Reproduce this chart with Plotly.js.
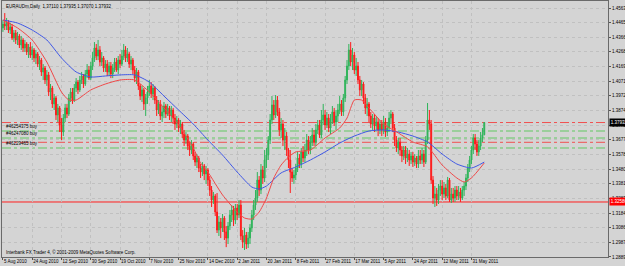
<!DOCTYPE html>
<html><head><meta charset="utf-8">
<script src="https://cdn.plot.ly/plotly-3.0.1.min.js"></script>
<style>html,body{margin:0;padding:0;overflow:hidden;background:#d4d4d4}#c{width:625px;height:266px}</style>
</head><body><div id="c"></div>
<script>
const openP = [
1.4429,1.4455,1.4442,1.4469,1.4415,1.4435,1.4361,1.4395,1.4348,1.4375,
1.4314,1.4348,1.4294,1.4321,1.4267,1.4301,1.4247,1.4281,1.4227,1.4254,
1.4186,1.4213,1.4133,1.4160,1.4079,1.4113,1.3998,1.4025,1.3918,1.3958,
1.3844,1.3891,1.3776,1.3729,1.3823,1.3891,1.3850,1.3958,1.3998,1.3944,
1.4025,1.4065,1.4012,1.4079,1.4106,1.4052,1.4119,1.4146,1.4092,1.4173,
1.4227,1.4294,1.4240,1.4281,1.4200,1.4227,1.4160,1.4186,1.4133,1.4173,
1.4119,1.4160,1.4200,1.4146,1.4213,1.4186,1.4240,1.4281,1.4227,1.4254,
1.4186,1.4213,1.4146,1.4092,1.4133,1.4039,1.3971,1.4012,1.3918,1.3958,
1.3998,1.4039,1.3985,1.4025,1.3944,1.3877,1.3918,1.3837,1.3864,1.3904,
1.3850,1.3891,1.3837,1.3877,1.3823,1.3783,1.3810,1.3756,1.3783,1.3716,
1.3675,1.3702,1.3635,1.3608,1.3649,1.3568,1.3527,1.3554,1.3487,1.3460,
1.3501,1.3447,1.3474,1.3406,1.3339,1.3272,1.3299,1.3191,1.3070,1.3124,
1.3084,1.3151,1.3057,1.3016,1.3097,1.3171,1.3205,1.3137,1.3218,1.3171,
1.3238,1.3030,1.2989,1.3036,1.2976,1.3016,1.3084,1.3171,1.3238,1.3285,
1.3406,1.3339,1.3474,1.3420,1.3541,1.3575,1.3675,1.3810,1.3911,1.3844,
1.3944,1.3864,1.3743,1.3783,1.3675,1.3702,1.3608,1.3541,1.3460,1.3420,
1.3440,1.3487,1.3554,1.3514,1.3595,1.3554,1.3608,1.3675,1.3608,1.3662,
1.3709,1.3662,1.3743,1.3776,1.3709,1.3810,1.3844,1.3776,1.3823,1.3756,
1.3810,1.3864,1.3796,1.3837,1.3877,1.3918,1.3864,1.3958,1.4079,1.4173,
1.4281,1.4200,1.4247,1.4146,1.4173,1.4079,1.4012,1.4052,1.3958,1.3891,
1.3918,1.3837,1.3783,1.3823,1.3770,1.3796,1.3743,1.3783,1.3743,1.3796,
1.3729,1.3756,1.3823,1.3850,1.3756,1.3675,1.3622,1.3662,1.3608,1.3568,
1.3608,1.3554,1.3581,1.3541,1.3568,1.3527,1.3554,1.3514,1.3568,1.3541,
1.3581,1.3527,1.3675,1.3810,1.3783,1.3406,1.3285,1.3312,1.3272,1.3339,
1.3366,1.3312,1.3353,1.3299,1.3406,1.3272,1.3312,1.3285,1.3339,1.3299,
1.3326,1.3285,1.3339,1.3366,1.3420,1.3487,1.3541,1.3608,1.3689,1.3649,
1.3595,1.3635,1.3689,1.37110];
const highP = [
1.4482,1.4529,1.4496,1.4482,1.4462,1.4455,1.4415,1.4415,1.4402,1.4388,
1.4375,1.4361,1.4348,1.4334,1.4321,1.4334,1.4307,1.4294,1.4281,1.4267,
1.4240,1.4227,1.4186,1.4173,1.4146,1.4133,1.4052,1.4039,1.3985,1.3971,
1.3918,1.3904,1.3823,1.3850,1.3918,1.3918,1.3985,1.4025,1.4025,1.4052,
1.4092,1.4079,1.4106,1.4133,1.4119,1.4146,1.4186,1.4173,1.4200,1.4267,
1.4334,1.4321,1.4348,1.4307,1.4267,1.4240,1.4213,1.4213,1.4200,1.4200,
1.4186,1.4227,1.4227,1.4240,1.4254,1.4281,1.4321,1.4307,1.4294,1.4267,
1.4240,1.4227,1.4173,1.4160,1.4146,1.4052,1.4039,1.4025,1.3985,1.4039,
1.4079,1.4065,1.4052,1.4039,1.3971,1.3944,1.3944,1.3904,1.3931,1.3918,
1.3918,1.3904,1.3904,1.3891,1.3850,1.3837,1.3823,1.3810,1.3796,1.3743,
1.3729,1.3716,1.3662,1.3675,1.3662,1.3595,1.3581,1.3568,1.3514,1.3527,
1.3514,1.3501,1.3487,1.3433,1.3366,1.3326,1.3312,1.3319,1.3164,1.3151,
1.3178,1.3164,1.3097,1.3124,1.3205,1.3238,1.3232,1.3245,1.3245,1.3272,
1.3272,1.3070,1.3084,1.3057,1.3057,1.3110,1.3205,1.3272,1.3339,1.3460,
1.3433,1.3514,1.3501,1.3608,1.3622,1.3702,1.3850,1.3971,1.3944,1.3978,
1.3971,1.3891,1.3823,1.3810,1.3756,1.3729,1.3622,1.3608,1.3487,1.3474,
1.3514,1.3595,1.3581,1.3622,1.3635,1.3649,1.3716,1.3702,1.3702,1.3756,
1.3743,1.3783,1.3810,1.3810,1.3877,1.3918,1.3877,1.3864,1.3850,1.3850,
1.3904,1.3891,1.3877,1.3918,1.3971,1.3944,1.3985,1.4106,1.4213,1.4321,
1.4334,1.4294,1.4267,1.4227,1.4200,1.4106,1.4079,1.4065,1.3985,1.3958,
1.3931,1.3864,1.3850,1.3850,1.3837,1.3823,1.3810,1.3810,1.3837,1.3823,
1.3796,1.3864,1.3877,1.3864,1.3783,1.3702,1.3689,1.3689,1.3635,1.3635,
1.3635,1.3622,1.3608,1.3595,1.3595,1.3581,1.3568,1.3608,1.3608,1.3622,
1.3608,1.3702,1.3924,1.3877,1.3810,1.3433,1.3366,1.3353,1.3380,1.3406,
1.3406,1.3393,1.3380,1.3427,1.3420,1.3353,1.3353,1.3366,1.3366,1.3366,
1.3353,1.3366,1.3393,1.3447,1.3514,1.3568,1.3635,1.3716,1.3716,1.3675,
1.3675,1.3729,1.3756,1.37935];
const lowP = [
1.4402,1.4415,1.4415,1.4395,1.4388,1.4348,1.4334,1.4321,1.4314,1.4294,
1.4281,1.4267,1.4267,1.4247,1.4227,1.4227,1.4213,1.4200,1.4186,1.4166,
1.4146,1.4106,1.4079,1.4052,1.4039,1.3971,1.3944,1.3891,1.3877,1.3810,
1.3796,1.3729,1.3675,1.3702,1.3796,1.3823,1.3837,1.3931,1.3918,1.3931,
1.3998,1.3985,1.3998,1.4052,1.4025,1.4039,1.4092,1.4079,1.4079,1.4146,
1.4200,1.4213,1.4213,1.4173,1.4173,1.4133,1.4133,1.4106,1.4106,1.4092,
1.4092,1.4133,1.4133,1.4119,1.4160,1.4173,1.4213,1.4200,1.4200,1.4160,
1.4146,1.4119,1.4065,1.4052,1.4012,1.3944,1.3931,1.3877,1.3837,1.3918,
1.3971,1.3958,1.3944,1.3918,1.3837,1.3850,1.3810,1.3796,1.3823,1.3823,
1.3837,1.3810,1.3796,1.3783,1.3743,1.3756,1.3729,1.3716,1.3689,1.3635,
1.3649,1.3608,1.3568,1.3581,1.3541,1.3501,1.3487,1.3460,1.3420,1.3433,
1.3406,1.3380,1.3366,1.3299,1.3225,1.3245,1.3164,1.3050,1.3030,1.3016,
1.3057,1.3003,1.2955,1.2976,1.3070,1.3124,1.3097,1.3110,1.3137,1.3151,
1.3003,1.2949,1.2936,1.2942,1.2949,1.2976,1.3057,1.3137,1.3205,1.3259,
1.3299,1.3312,1.3380,1.3393,1.3487,1.3541,1.3649,1.3783,1.3810,1.3823,
1.3837,1.3702,1.3689,1.3635,1.3608,1.3568,1.3487,1.3319,1.3393,1.3380,
1.3406,1.3460,1.3487,1.3487,1.3527,1.3527,1.3568,1.3581,1.3581,1.3635,
1.3635,1.3635,1.3716,1.3689,1.3689,1.3776,1.3743,1.3756,1.3729,1.3716,
1.3783,1.3770,1.3743,1.3796,1.3850,1.3837,1.3837,1.3931,1.4052,1.4146,
1.4173,1.4146,1.4119,1.4106,1.4052,1.3971,1.3971,1.3918,1.3850,1.3837,
1.3796,1.3756,1.3743,1.3729,1.3743,1.3702,1.3716,1.3702,1.3716,1.3696,
1.3702,1.3729,1.3783,1.3729,1.3635,1.3595,1.3581,1.3568,1.3527,1.3541,
1.3514,1.3527,1.3501,1.3514,1.3494,1.3501,1.3487,1.3487,1.3514,1.3514,
1.3494,1.3514,1.3649,1.3743,1.3380,1.3245,1.3225,1.3232,1.3245,1.3299,
1.3272,1.3285,1.3272,1.3285,1.3259,1.3252,1.3259,1.3259,1.3272,1.3272,
1.3259,1.3272,1.3299,1.3339,1.3393,1.3460,1.3514,1.3581,1.3608,1.3568,
1.3568,1.3608,1.3662,1.37070];
const closeP = [
1.4455,1.4442,1.4469,1.4415,1.4435,1.4361,1.4395,1.4348,1.4375,1.4314,
1.4348,1.4294,1.4321,1.4267,1.4301,1.4247,1.4281,1.4227,1.4254,1.4186,
1.4213,1.4133,1.4160,1.4079,1.4113,1.3998,1.4025,1.3918,1.3958,1.3844,
1.3891,1.3776,1.3729,1.3823,1.3891,1.3850,1.3958,1.3998,1.3944,1.4025,
1.4065,1.4012,1.4079,1.4106,1.4052,1.4119,1.4146,1.4092,1.4173,1.4227,
1.4294,1.4240,1.4281,1.4200,1.4227,1.4160,1.4186,1.4133,1.4173,1.4119,
1.4160,1.4200,1.4146,1.4213,1.4186,1.4240,1.4281,1.4227,1.4254,1.4186,
1.4213,1.4146,1.4092,1.4133,1.4039,1.3971,1.4012,1.3918,1.3958,1.3998,
1.4039,1.3985,1.4025,1.3944,1.3877,1.3918,1.3837,1.3864,1.3904,1.3850,
1.3891,1.3837,1.3877,1.3823,1.3783,1.3810,1.3756,1.3783,1.3716,1.3675,
1.3702,1.3635,1.3608,1.3649,1.3568,1.3527,1.3554,1.3487,1.3460,1.3501,
1.3447,1.3474,1.3406,1.3339,1.3272,1.3299,1.3191,1.3070,1.3124,1.3084,
1.3151,1.3057,1.3016,1.3097,1.3171,1.3205,1.3137,1.3218,1.3171,1.3238,
1.3030,1.2989,1.3036,1.2976,1.3016,1.3084,1.3171,1.3238,1.3285,1.3406,
1.3339,1.3474,1.3420,1.3541,1.3575,1.3675,1.3810,1.3911,1.3844,1.3944,
1.3864,1.3743,1.3783,1.3675,1.3702,1.3608,1.3541,1.3460,1.3420,1.3440,
1.3487,1.3554,1.3514,1.3595,1.3554,1.3608,1.3675,1.3608,1.3662,1.3709,
1.3662,1.3743,1.3776,1.3709,1.3810,1.3844,1.3776,1.3823,1.3756,1.3810,
1.3864,1.3796,1.3837,1.3877,1.3918,1.3864,1.3958,1.4079,1.4173,1.4281,
1.4200,1.4247,1.4146,1.4173,1.4079,1.4012,1.4052,1.3958,1.3891,1.3918,
1.3837,1.3783,1.3823,1.3770,1.3796,1.3743,1.3783,1.3743,1.3796,1.3729,
1.3756,1.3823,1.3850,1.3756,1.3675,1.3622,1.3662,1.3608,1.3568,1.3608,
1.3554,1.3581,1.3541,1.3568,1.3527,1.3554,1.3514,1.3568,1.3541,1.3581,
1.3527,1.3675,1.3810,1.3783,1.3406,1.3285,1.3312,1.3272,1.3339,1.3366,
1.3312,1.3353,1.3299,1.3406,1.3272,1.3312,1.3285,1.3339,1.3299,1.3326,
1.3285,1.3339,1.3366,1.3420,1.3487,1.3541,1.3608,1.3689,1.3649,1.3595,
1.3635,1.3689,1.3711,1.37932];

const maSlowBar = [0,8,16,24,32,40,48,56,64,72,80,88,96,104,112,120,128,136,140,144,152,160,168,176,184,192,200,208,216,224,232,240,248,256,263];
const maSlowVal = [1.4482,1.4462,1.4415,1.4348,1.4227,1.4133,1.4099,1.4106,1.4113,1.4113,1.4065,1.3971,1.3877,1.3783,1.3675,1.3574,1.3460,1.3359,1.3346,1.3366,1.3454,1.3494,1.3541,1.3595,1.3655,1.3702,1.3736,1.3743,1.3729,1.3702,1.3662,1.3581,1.3514,1.3487,1.3527];
const maFastBar = [0,8,16,24,32,36,40,48,56,64,72,80,88,96,104,108,112,120,128,132,136,140,144,148,152,156,160,168,176,184,188,192,196,200,208,216,224,232,240,248,252,256,263];
const maFastVal = [1.4482,1.4429,1.4348,1.4200,1.3998,1.3944,1.3944,1.4012,1.4052,1.4079,1.4079,1.3998,1.3891,1.3776,1.3622,1.3521,1.3460,1.3306,1.3191,1.3151,1.3144,1.3191,1.3285,1.3420,1.3507,1.3561,1.3595,1.3608,1.3689,1.3756,1.3823,1.3944,1.3944,1.3891,1.3783,1.3723,1.3662,1.3629,1.3507,1.3420,1.3393,1.3420,1.3521];

const dateBars = [0,16,32,48,64,80,96,112,128,144,160,176,192,208,224,240,256];
const dateLabels = ['5 Aug 2010','24 Aug 2010','12 Sep 2010','30 Sep 2010','19 Oct 2010','7 Nov 2010','25 Nov 2010','14 Dec 2010','2 Jan 2011','20 Jan 2011','8 Feb 2011','27 Feb 2011','17 Mar 2011','5 Apr 2011','24 Apr 2011','12 May 2011','31 May 2011'];
const priceTicks = [1.28890,1.29870,1.30860,1.31840,1.32830,1.33810,1.34800,1.35780,1.36770,1.37750,1.38740,1.39720,1.40710,1.41690,1.42680,1.43660,1.44650,1.45630];

const orderLevels = [1.37359,1.36889,1.36217];
const orderNames = ['#46254375 buy','#46247080 buy','#46229465 buy'];
const stopLevels = [1.37930,1.36600];
const supportLevel = 1.32586;
const lastPrice = 1.37932;
const headerText = 'EURAUDm,Daily  1.37110 1.37935 1.37070 1.37932';
const footerText = 'Interbank FX Trader 4, \u00a9 2001-2009 MetaQuotes Software Corp.';

const barIdx = openP.map((_, i) => i);
const FONT = 'Liberation Sans, Arial, sans-serif';
const FS = 4.5;

const traces = [
  {type:'candlestick', x:barIdx, open:openP, high:highP, low:lowP, close:closeP,
   increasing:{line:{color:'#2fb45a',width:1}, fillcolor:'#2fb45a'},
   decreasing:{line:{color:'#ff1a1a',width:1}, fillcolor:'#ff1a1a'},
   whiskerwidth:0, hoverinfo:'skip'},
  {type:'scatter', mode:'lines', x:maSlowBar, y:maSlowVal, line:{color:'#3f57e6',width:1,shape:'spline',smoothing:0.6}, hoverinfo:'skip'},
  {type:'scatter', mode:'lines', x:maFastBar, y:maFastVal, line:{color:'#f04848',width:1,shape:'spline',smoothing:0.6}, hoverinfo:'skip'}
];

const shapes = [];
orderLevels.forEach(v => shapes.push({type:'line', xref:'paper', x0:0, x1:1, yref:'y', y0:v, y1:v, layer:'below', line:{color:'#62c862', width:1, dash:'dashdot'}}));
stopLevels.forEach(v => shapes.push({type:'line', xref:'paper', x0:0, x1:1, yref:'y', y0:v, y1:v, layer:'below', line:{color:'#f05050', width:1, dash:'dashdot'}}));
shapes.push({type:'line', xref:'paper', x0:0, x1:1, yref:'y', y0:supportLevel, y1:supportLevel, layer:'below', line:{color:'#ff2020', width:1}});

const annotations = [
  {xref:'paper', yref:'paper', x:0, y:1, xanchor:'left', yanchor:'top', xshift:2, yshift:-1, text:headerText, showarrow:false, font:{family:FONT, size:FS, color:'#000'}},
  {xref:'paper', yref:'paper', x:0, y:0, xanchor:'left', yanchor:'bottom', xshift:2, yshift:0, text:footerText, showarrow:false, font:{family:FONT, size:FS, color:'#000'}},
  {xref:'paper', yref:'y', x:1, y:lastPrice, xanchor:'left', yanchor:'middle', xshift:1, text:lastPrice.toFixed(5), showarrow:false, bgcolor:'#000', borderpad:0.8, font:{family:FONT, size:FS, color:'#fff'}},
  {xref:'paper', yref:'y', x:1, y:supportLevel, xanchor:'left', yanchor:'middle', xshift:1, text:supportLevel.toFixed(5), showarrow:false, bgcolor:'#ff0000', borderpad:0.8, font:{family:FONT, size:FS, color:'#fff'}}
];
orderLevels.forEach((v, k) => annotations.push({xref:'paper', yref:'y', x:0, y:v, xanchor:'left', yanchor:'bottom', xshift:2, yshift:0, text:orderNames[k], showarrow:false, font:{family:FONT, size:FS, color:'#000'}}));

const layout = {
  width:625, height:266, margin:{l:2, r:17, t:1, b:9, pad:0},
  paper_bgcolor:'#d4d4d4', plot_bgcolor:'#d4d4d4', showlegend:false, hovermode:false,
  font:{family:FONT, size:FS, color:'#000'},
  xaxis:{range:[-0.5,330.6], tickmode:'array', tickvals:dateBars, ticktext:dateLabels, tickangle:0,
    ticks:'outside', ticklen:2, tickcolor:'#555', ticklabelposition:'outside right',
    showline:true, linecolor:'#6a6a6a', linewidth:1, mirror:true, zeroline:false,
    showgrid:true, gridcolor:'#c0c0c0', griddash:'dot', gridwidth:1,
    tickfont:{family:FONT, size:FS, color:'#000'}, rangeslider:{visible:false}, fixedrange:true},
  yaxis:{range:[1.28887,1.46101], side:'right', tickmode:'array', tickvals:priceTicks,
    ticktext:priceTicks.map(v => Math.abs(v - lastPrice) < 0.0005 ? '' : v.toFixed(5)),
    ticks:'outside', ticklen:2, tickcolor:'#555',
    showline:true, linecolor:'#6a6a6a', linewidth:1, mirror:true, zeroline:false,
    showgrid:true, gridcolor:'#c0c0c0', griddash:'dot', gridwidth:1,
    tickfont:{family:FONT, size:FS, color:'#000'}, fixedrange:true},
  shapes:shapes, annotations:annotations
};
Plotly.newPlot('c', traces, layout, {staticPlot:true, displayModeBar:false});
</script></body></html>
